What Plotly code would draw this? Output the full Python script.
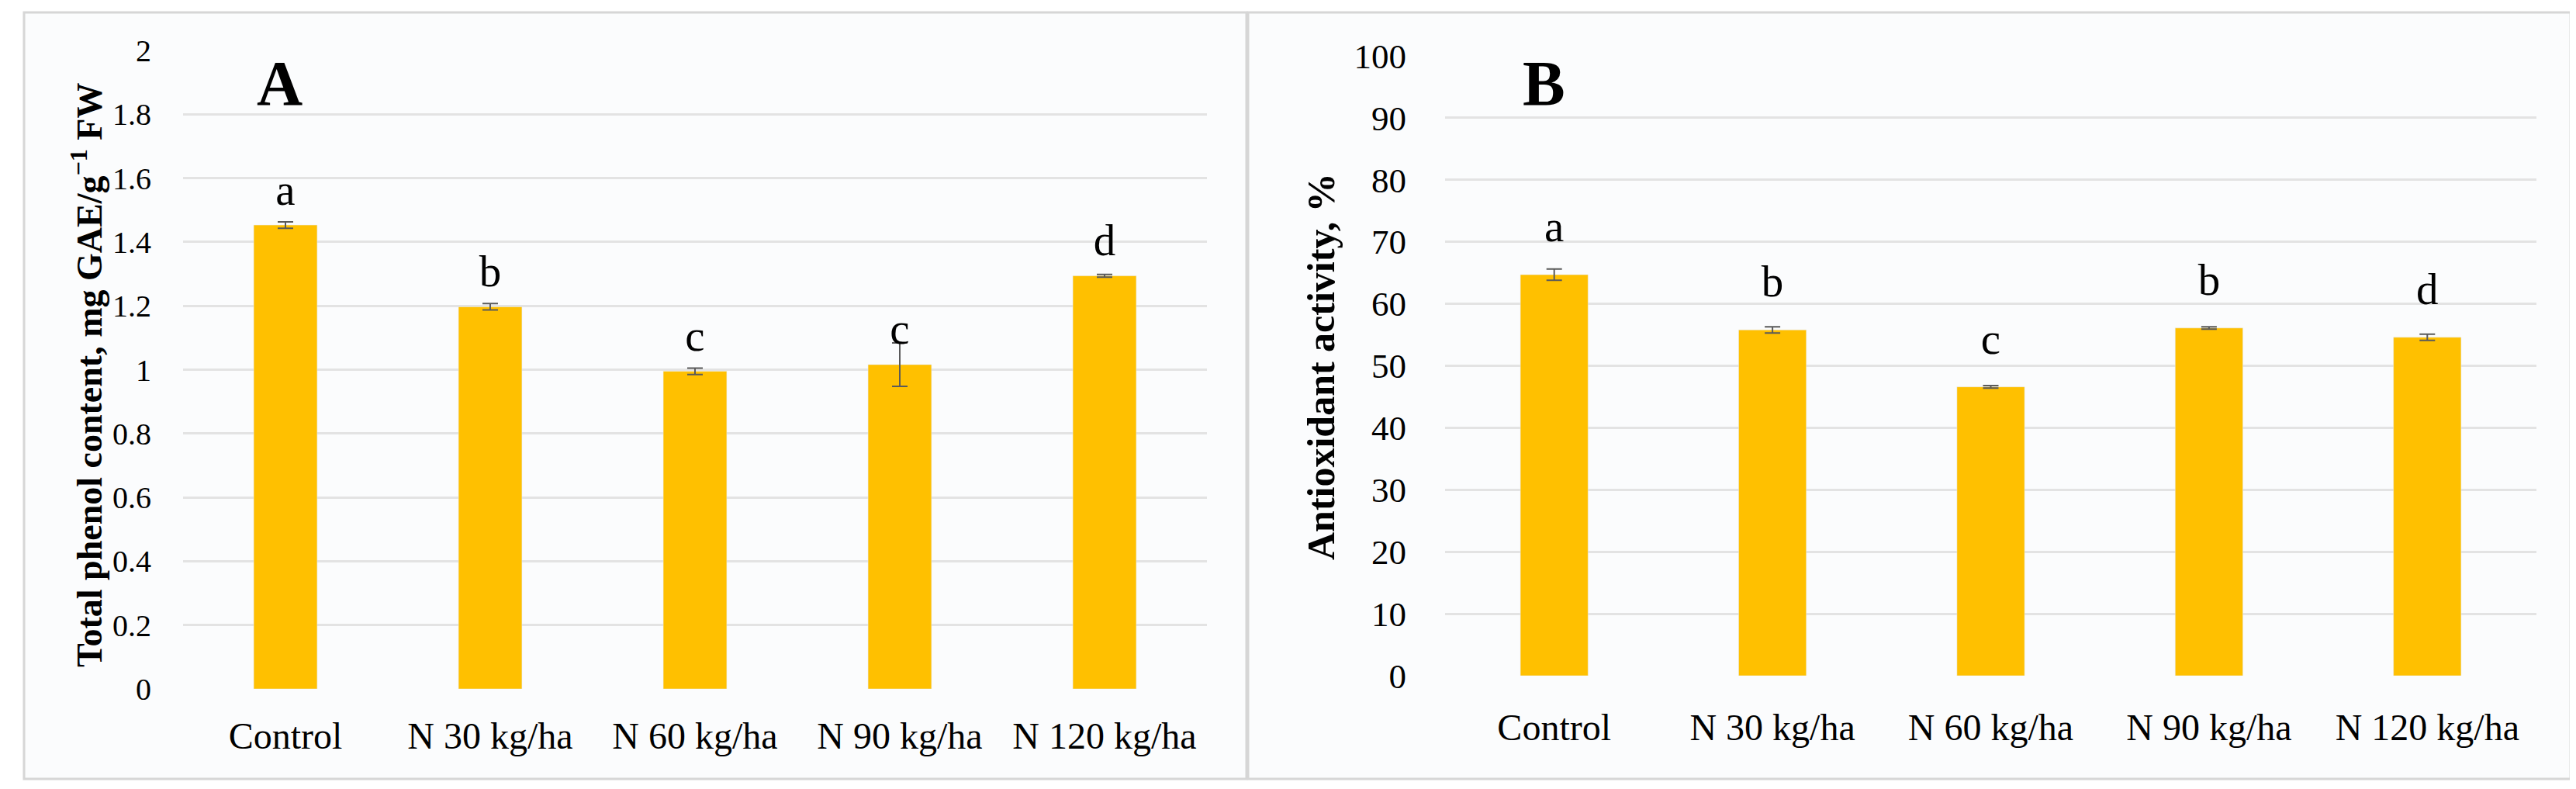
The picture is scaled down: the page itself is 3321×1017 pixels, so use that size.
import plotly.graph_objects as go

# Data
categories = ["Control", "N 30 kg/ha", "N 60 kg/ha", "N 90 kg/ha", "N 120 kg/ha"]

phenol = [1.453, 1.197, 0.995, 1.016, 1.294]
phenol_err = [0.010, 0.010, 0.010, 0.068, 0.004]
phenol_letters = ["a", "b", "c", "c", "d"]

antiox = [64.7, 55.8, 46.6, 56.1, 54.6]
antiox_err = [0.9, 0.5, 0.2, 0.2, 0.5]
antiox_letters = ["a", "b", "c", "b", "d"]

W, H = 3321, 1017
FONT = "Liberation Serif"
BAR_COLOR = "#FFC000"
GRID = "#e3e3e3"
DY = -6  # small global vertical shift (px)


def py(px_from_top):
    return 1 - (px_from_top + DY) / H


fig = go.Figure()

fig.add_trace(go.Bar(
    x=categories, y=phenol, width=0.31, marker_color=BAR_COLOR,
    error_y=dict(type="data", array=phenol_err, color="#5a5a5a", thickness=2, width=10),
    xaxis="x", yaxis="y", showlegend=False, hoverinfo="x+y",
))
fig.add_trace(go.Bar(
    x=categories, y=antiox, width=0.31, marker_color=BAR_COLOR,
    error_y=dict(type="data", array=antiox_err, color="#5a5a5a", thickness=2, width=10),
    xaxis="x2", yaxis="y2", showlegend=False, hoverinfo="x+y",
))

# significance letters above bars
fig.add_trace(go.Scatter(
    x=categories, y=[v + 0.03 for v in phenol], text=phenol_letters,
    mode="text", textposition="top center", xaxis="x", yaxis="y",
    textfont=dict(family=FONT, size=57, color="black"), showlegend=False, hoverinfo="skip",
))
fig.add_trace(go.Scatter(
    x=categories, y=[v + 3.6 for v in antiox], text=antiox_letters,
    mode="text", textposition="top center", xaxis="x2", yaxis="y2",
    textfont=dict(family=FONT, size=57, color="black"), showlegend=False, hoverinfo="skip",
))

# panel letters
fig.add_annotation(x=352 / W, y=py(105), xref="paper", yref="paper", text="<b>A</b>",
                   showarrow=False, xanchor="center", yanchor="middle",
                   font=dict(family=FONT, size=82, color="black"))
fig.add_annotation(x=1982 / W, y=py(105), xref="paper", yref="paper", text="<b>B</b>",
                   showarrow=False, xanchor="center", yanchor="middle",
                   font=dict(family=FONT, size=82, color="black"))

# y axis titles
fig.add_annotation(x=104 / W, y=py(482), xref="paper", yref="paper", textangle=-90,
                   text="<b>Total phenol content, mg GAE/g<sup>−1</sup> FW</b>",
                   showarrow=False, xanchor="center", yanchor="middle",
                   font=dict(family=FONT, size=46, color="black"))
fig.add_annotation(x=1695 / W, y=py(471), xref="paper", yref="paper", textangle=-90,
                   text="<b>Antioxidant activity, %</b>",
                   showarrow=False, xanchor="center", yanchor="middle",
                   font=dict(family=FONT, size=50, color="black"))

# panel frames
for x0, x1 in [(23, 1599), (1601, 3306)]:
    fig.add_shape(type="rect", xref="paper", yref="paper",
                  x0=x0 / W, x1=x1 / W, y0=py(1002), y1=py(14),
                  line=dict(color="#d6d6d6", width=3), fillcolor="#fbfcfd", layer="below")

xfont = dict(family=FONT, size=48, color="black")

fig.update_layout(
    width=W, height=H,
    margin=dict(l=0, r=0, t=0, b=0, pad=0),
    paper_bgcolor="white", plot_bgcolor="rgba(0,0,0,0)",
    bargap=0.69,
    xaxis=dict(domain=[228 / W, 1548 / W], anchor="y", showgrid=False, zeroline=False,
               showline=False, ticks="outside", ticklen=18, tickcolor="rgba(0,0,0,0)",
               automargin=False, tickfont=xfont),
    yaxis=dict(domain=[py(886), py(63)], range=[0, 2], dtick=0.2,
               tickformat="~g", showgrid=True, gridcolor=GRID, gridwidth=3,
               zeroline=False, showline=False, ticks="outside", ticklen=32,
               tickcolor="rgba(0,0,0,0)", anchor="x", automargin=False,
               tickfont=dict(family=FONT, size=40, color="black")),
    xaxis2=dict(domain=[1855 / W, 3262 / W], anchor="y2", showgrid=False, zeroline=False,
                showline=False, ticks="outside", ticklen=24, tickcolor="rgba(0,0,0,0)",
                automargin=False, tickfont=xfont),
    yaxis2=dict(domain=[py(869), py(70)], range=[0, 100], dtick=10,
                showgrid=True, gridcolor=GRID, gridwidth=3,
                zeroline=False, showline=False, ticks="outside", ticklen=40,
                tickcolor="rgba(0,0,0,0)", anchor="x2", automargin=False,
                tickfont=dict(family=FONT, size=45, color="black")),
)

fig.write_html("out.html")
